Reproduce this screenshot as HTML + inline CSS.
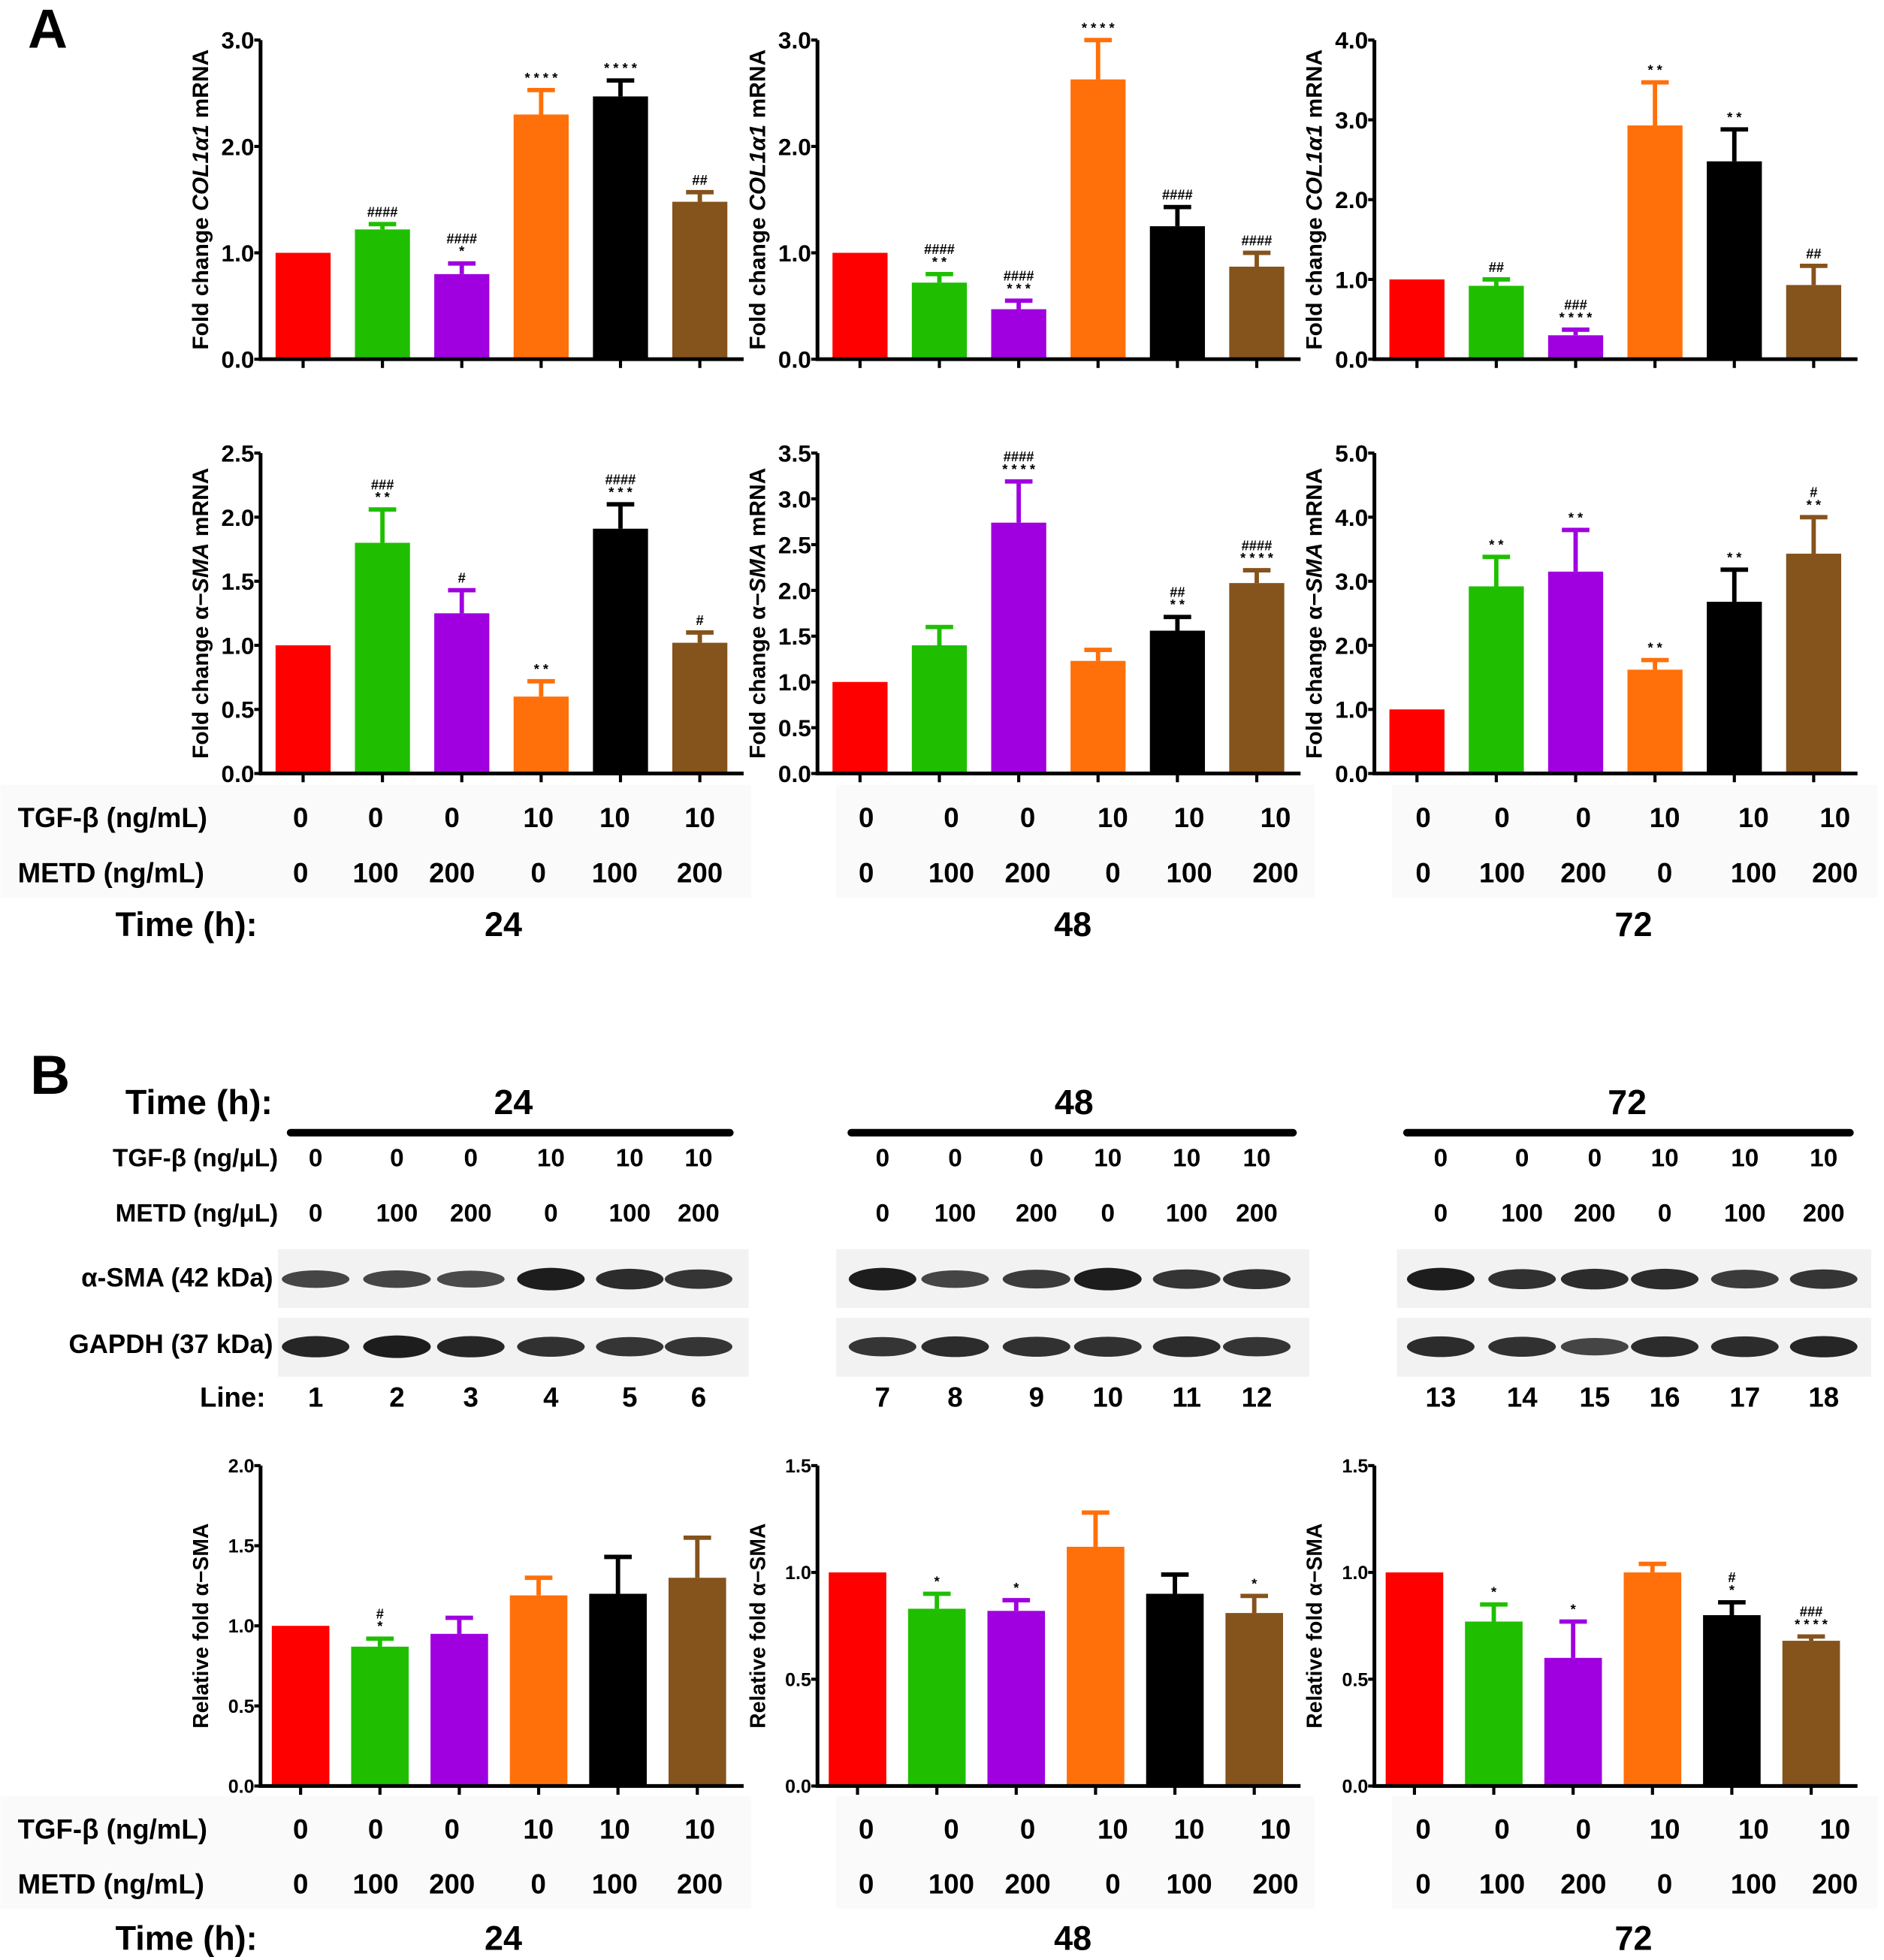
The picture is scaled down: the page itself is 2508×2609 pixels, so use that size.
<!DOCTYPE html>
<html><head><meta charset="utf-8"><style>
html,body{margin:0;padding:0;background:#fff}
svg{display:block}
text{font-family:"Liberation Sans",sans-serif;font-weight:bold;fill:#000}
</style></head><body>
<svg id="fig" width="2508" height="2609" viewBox="0 0 1505 1566" xmlns="http://www.w3.org/2000/svg">
<rect x="0" y="0" width="1505" height="1566" fill="#fff"/>
<g id="static">
<text x="22" y="38" font-size="44">A</text>
<text x="24" y="874" font-size="44">B</text>
</g>
<g id="charts"></g>
</svg>
<script>
const colors = ["#ff0000","#1fbf00","#a000e0","#ff700a","#000000","#85531c"];
const tgfLabels = ["0","0","0","10","10","10"];
const metdLabels = ["0","100","200","0","100","200"];
const timeLabels = ["24","48","72"];

// Row A1: COL1a1
const colMeans24 = [1.0,1.22,0.8,2.3,2.47,1.48];
const colErr24 = [1.0,1.27,0.9,2.53,2.62,1.57];
const colMeans48 = [1.0,0.72,0.47,2.63,1.25,0.87];
const colErr48 = [1.0,0.8,0.55,3.0,1.43,1.0];
const colMeans72 = [1.0,0.92,0.3,2.93,2.48,0.93];
const colErr72 = [1.0,1.0,0.37,3.47,2.88,1.17];
// Row A2: a-SMA mRNA
const smaMeans24 = [1.0,1.8,1.25,0.6,1.91,1.02];
const smaErr24 = [1.0,2.06,1.43,0.72,2.1,1.1];
const smaMeans48 = [1.0,1.4,2.74,1.23,1.56,2.08];
const smaErr48 = [1.0,1.6,3.19,1.35,1.71,2.22];
const smaMeans72 = [1.0,2.92,3.15,1.62,2.68,3.43];
const smaErr72 = [1.0,3.38,3.8,1.77,3.18,4.0];
// Row B: relative fold
const relMeans24 = [1.0,0.87,0.95,1.19,1.2,1.3];
const relErr24 = [1.0,0.92,1.05,1.3,1.43,1.55];
const relMeans48 = [1.0,0.83,0.82,1.12,0.9,0.81];
const relErr48 = [1.0,0.9,0.87,1.28,0.99,0.89];
const relMeans72 = [1.0,0.77,0.6,1.0,0.8,0.68];
const relErr72 = [1.0,0.85,0.77,1.04,0.86,0.7];

const ticksCol = ["0.0","1.0","2.0","3.0"];
const ticksCol72 = ["0.0","1.0","2.0","3.0","4.0"];
const ticksSma24 = ["0.0","0.5","1.0","1.5","2.0","2.5"];
const ticksSma48 = ["0.0","0.5","1.0","1.5","2.0","2.5","3.0","3.5"];
const ticksSma72 = ["0.0","1.0","2.0","3.0","4.0","5.0"];
const ticksRel24 = ["0.0","0.5","1.0","1.5","2.0"];
const ticksRel15 = ["0.0","0.5","1.0","1.5"];

const annCol24 = [[],["####"],["####","*"],["* * * *"],["* * * *"],["##"]];
const annCol48 = [[],["####","* *"],["####","* * *"],["* * * *"],["####"],["####"]];
const annCol72 = [[],["##"],["###","* * * *"],["* *"],["* *"],["##"]];
const annSma24 = [[],["###","* *"],["#"],["* *"],["####","* * *"],["#"]];
const annSma48 = [[],[],["####","* * * *"],[],["##","* *"],["####","* * * *"]];
const annSma72 = [[],["* *"],["* *"],["* *"],["* *"],["#","* *"]];
const annRel24 = [[],["#","*"],[],[],[],[]];
const annRel48 = [[],["*"],["*"],[],[],["*"]];
const annRel72 = [[],["*"],["*"],[],["#","*"],["###","* * * *"]];

const NS="http://www.w3.org/2000/svg";
const root=document.getElementById('charts');
function mk(tag,attrs,parent){const e=document.createElementNS(NS,tag);for(const k in attrs)e.setAttribute(k,attrs[k]);(parent||root).appendChild(e);return e;}
function txt(s,x,y,size,parent,anchor,extra){const t=mk('text',Object.assign({x:x,y:y,'font-size':size,'text-anchor':anchor||'middle'},extra||{}),parent);t.textContent=s;return t;}

function chart(name,x0,yTop,yBot,ticks,means,errs,anns,title,opts){
  const g=mk('g',{});
  
  
  const maxV=parseFloat(ticks[ticks.length-1]);
  const ys=v=>yBot-(v/maxV)*(yBot-yTop);
  const step=opts.step, bw=opts.bw;
  const xs=i=>x0+opts.first+i*step;
  means.forEach((m,i)=>{
    const b=mk('rect',{x:xs(i)-bw/2,y:ys(m),width:bw,height:yBot-ys(m),fill:colors[i]},g);
    
    
    if(errs[i]>m+0.001){
      const e=mk('path',{d:`M${xs(i)},${ys(m)}V${ys(errs[i])}M${xs(i)-11},${ys(errs[i])}H${xs(i)+11}`,stroke:colors[i],'stroke-width':3.5,fill:'none'},g);
      
      
    }
    const a=anns[i]; const topY=ys(errs[i])-6;
    a.forEach((s,j)=>{
      const t=txt(s,xs(i),topY-(a.length-1-j)*10,11,g,'middle',{'font-weight':'normal'});
      
      
    });
    mk('line',{x1:xs(i),x2:xs(i),y1:yBot,y2:yBot+7,stroke:'#000','stroke-width':2.5},g);
  });
  const ax=mk('path',{d:`M${x0},${yTop}V${yBot}H${x0+opts.len}`,stroke:'#000','stroke-width':3,fill:'none'},g);
  
  
  ticks.forEach(t=>{
    const y=ys(parseFloat(t));
    mk('line',{x1:x0-5,x2:x0,y1:y,y2:y,stroke:'#000','stroke-width':2.5},g);
    const tl=txt(t,x0-5,y+opts.tfs*0.36,opts.tfs,g,'end');
    
    
  });
  const cy=(yTop+yBot)/2;
  const tt=mk('text',{x:0,y:0,'font-size':opts.titleFs,'text-anchor':'middle',transform:`translate(${x0-42},${cy}) rotate(-90)`},g);
  
  
  title.forEach(p=>{const s=document.createElementNS(NS,'tspan');s.textContent=p[0];if(p[1])s.setAttribute('font-style','italic');tt.appendChild(s);});
}
const optA={step:63.4,bw:44,first:34,len:386,tfs:19,titleFs:18};
const optB={step:63.4,bw:46,first:32,len:386,tfs:15,titleFs:17};
const X=[208,653,1098];
const colT=[["Fold change "],["COL1α1",1],[" mRNA"]];
const smaT=[["Fold change α−"],["SMA",1],[" mRNA"]];
const relT=[["Relative fold α−SMA"]];
chart('col1a1-24h',X[0],32,287,ticksCol,colMeans24,colErr24,annCol24,colT,optA);
chart('col1a1-48h',X[1],32,287,ticksCol,colMeans48,colErr48,annCol48,colT,optA);
chart('col1a1-72h',X[2],32,287,ticksCol72,colMeans72,colErr72,annCol72,colT,optA);
chart('sma-mrna-24h',X[0],362,618,ticksSma24,smaMeans24,smaErr24,annSma24,smaT,optA);
chart('sma-mrna-48h',X[1],362,618,ticksSma48,smaMeans48,smaErr48,annSma48,smaT,optA);
chart('sma-mrna-72h',X[2],362,618,ticksSma72,smaMeans72,smaErr72,annSma72,smaT,optA);
chart('rel-sma-24h',X[0],1171,1427,ticksRel24,relMeans24,relErr24,annRel24,relT,optB);
chart('rel-sma-48h',X[1],1171,1427,ticksRel15,relMeans48,relErr48,annRel48,relT,optB);
chart('rel-sma-72h',X[2],1171,1427,ticksRel15,relMeans72,relErr72,annRel72,relT,optB);

// condition tables
const tblX=[[240,300,361,430,491,559],[692,760,821,889,950,1019],[1137,1200,1265,1330,1401,1466]];
function table(y1,y2,y3,unit,name){
  const g=mk('g',{});
  
  
  [[0,600],[668,1050],[1112,1500]].forEach(r=>{mk('rect',{x:r[0],y:y1-26,width:r[1]-r[0],height:90,fill:'#fafafa'},g);});
  txt('TGF-β ('+unit+')',14,y1+8,22,g,'start');
  txt('METD ('+unit+')',14,y2+8,22,g,'start');
  txt('Time (h):',92,y3+10,27,g,'start');
  tblX.forEach((xs,p)=>{
    xs.forEach((x,i)=>{txt(tgfLabels[i],x,y1+8,22,g);txt(metdLabels[i],x,y2+8,22,g);});
    txt(timeLabels[p],[402,857,1305][p],y3+10,27,g);
  });
}
table(653,697,738,'ng/mL','conditions-table-a');
table(1461,1505,1548,'ng/mL','conditions-table-b');

// western blot section
const wb=mk('g',{});


txt('Time (h):',100,890,28,wb,'start');
const wbTgfX=[[252,317,376,440,503,558],[705,763,828,885,948,1004],[1151,1216,1274,1330,1394,1457]];
const wbLines=[[232,583],[680,1033],[1124,1478]];
const bandSma=[[0.6,0.6,0.55,1,0.85,0.75],[1,0.6,0.7,1,0.75,0.8],[1,0.8,0.85,0.85,0.7,0.75]];
const bandGapdh=[[0.9,1,0.9,0.8,0.75,0.75],[0.75,0.85,0.8,0.8,0.85,0.75],[0.85,0.8,0.6,0.85,0.85,0.9]];
const boxes=[[222,598],[668,1046],[1116,1495]];
txt('TGF-β (ng/μL)',222,932,20,wb,'end');
txt('METD (ng/μL)',222,976,20,wb,'end');
txt('α-SMA (42 kDa)',218,1028,21,wb,'end');
txt('GAPDH (37 kDa)',218,1081,21,wb,'end');
txt('Line:',212,1124,22,wb,'end');
wbTgfX.forEach((xs,p)=>{
  txt(timeLabels[p],[410,858,1300][p],890,28,wb);
  mk('line',{x1:wbLines[p][0],x2:wbLines[p][1],y1:905,y2:905,stroke:'#000','stroke-width':6,'stroke-linecap':'round'},wb);
  mk('rect',{x:boxes[p][0],y:998,width:boxes[p][1]-boxes[p][0],height:47,fill:'#f2f2f2'},wb);
  mk('rect',{x:boxes[p][0],y:1053,width:boxes[p][1]-boxes[p][0],height:47,fill:'#f2f2f2'},wb);
  xs.forEach((x,i)=>{
    txt(tgfLabels[i],x,932,20,wb);
    txt(metdLabels[i],x,976,20,wb);
    txt(String(p*6+i+1),x,1124,22,wb);
    const b1=mk('ellipse',{cx:x,cy:1022,rx:27,ry:4+5*bandSma[p][i],fill:'#111','fill-opacity':0.5+0.45*bandSma[p][i]},wb);
    
    
    const b2=mk('ellipse',{cx:x,cy:1076,rx:27,ry:4+5*bandGapdh[p][i],fill:'#111','fill-opacity':0.5+0.45*bandGapdh[p][i]},wb);
    
    
  });
});
</script>
</body></html>
